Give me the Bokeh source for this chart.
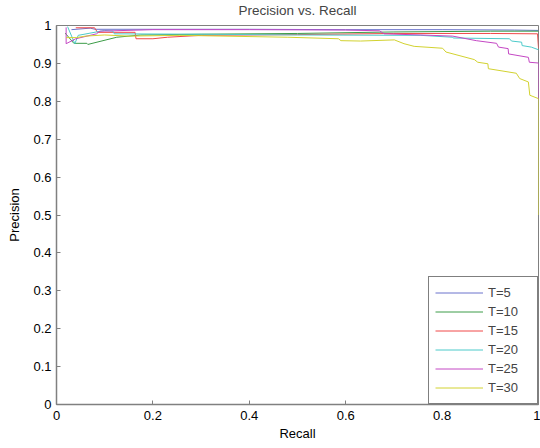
from bokeh.plotting import figure
from bokeh.models import Range1d, FixedTicker, Legend, LegendItem, Title
from bokeh.embed import file_html
from bokeh.resources import INLINE

# ---- data ----
series_names = ["T=5", "T=10", "T=15", "T=20", "T=25", "T=30"]
series_colors = ["#6a72cc", "#3c9c48", "#f04848", "#4ccaca", "#c448c4", "#d2d230"]

recall_t5 = [0.031, 0.07, 0.08, 0.2, 0.4, 0.6, 0.8, 0.95, 1.0]
precision_t5 = [0.989, 0.993, 0.990, 0.990, 0.990, 0.989, 0.989, 0.988, 0.987]

recall_t10 = [0.018, 0.036, 0.063, 0.065, 0.125, 0.175, 0.3, 0.5, 0.7, 0.9, 1.0]
precision_t10 = [0.980, 0.953, 0.953, 0.950, 0.969, 0.975, 0.977, 0.979, 0.983, 0.985, 0.985]

recall_t15 = [0.04, 0.079, 0.085, 0.163, 0.165, 0.2, 0.23, 0.3, 0.5, 0.7, 0.9, 0.998, 1.0]
precision_t15 = [0.994, 0.994, 0.982, 0.982, 0.965, 0.965, 0.969, 0.974, 0.976, 0.979, 0.979, 0.978, 0.940]

recall_t20 = [0.023, 0.038, 0.045, 0.1, 0.117, 0.12, 0.3, 0.5, 0.756, 0.822, 0.823,
              0.94, 0.944, 0.965, 0.966, 0.985, 1.0]
precision_t20 = [0.997, 0.952, 0.974, 0.987, 0.985, 0.978, 0.977, 0.975, 0.974, 0.969, 0.967,
                 0.965, 0.959, 0.956, 0.947, 0.943, 0.936]

recall_t25 = [0.02, 0.02, 0.04, 0.083, 0.09, 0.2, 0.4, 0.6, 0.67, 0.68, 0.756, 0.822, 0.871,
              0.913, 0.917, 0.937, 0.938, 0.979, 0.981, 1.0, 1.0]
precision_t25 = [0.995, 0.952, 0.965, 0.978, 0.985, 0.989, 0.989, 0.988, 0.986, 0.978, 0.975,
                 0.972, 0.960, 0.953, 0.943, 0.939, 0.925, 0.916, 0.903, 0.901, 0.805]

recall_t30 = [0.02, 0.041, 0.06, 0.1, 0.15, 0.256, 0.48, 0.585, 0.59, 0.631, 0.701, 0.721,
              0.742, 0.801, 0.808, 0.867, 0.874, 0.895, 0.896, 0.954, 0.961, 0.979, 0.982,
              1.0, 1.0]
precision_t30 = [0.968, 0.968, 0.972, 0.975, 0.972, 0.974, 0.969, 0.965, 0.960, 0.959, 0.962,
                 0.952, 0.945, 0.940, 0.930, 0.910, 0.903, 0.899, 0.886, 0.874, 0.860, 0.851,
                 0.816, 0.807, 0.500]

recalls = [recall_t5, recall_t10, recall_t15, recall_t20, recall_t25, recall_t30]
precisions = [precision_t5, precision_t10, precision_t15, precision_t20, precision_t25, precision_t30]

x_ticks = [0, 0.2, 0.4, 0.6, 0.8, 1]
x_tick_labels = ["0", "0.2", "0.4", "0.6", "0.8", "1"]
y_ticks = [0, 0.1, 0.2, 0.3, 0.4, 0.5, 0.6, 0.7, 0.8, 0.9, 1]
y_tick_labels = ["0", "0.1", "0.2", "0.3", "0.4", "0.5", "0.6", "0.7", "0.8", "0.9", "1"]

FONT = "Liberation Sans"

p = figure(width=540, height=446, output_backend="svg", toolbar_location=None,
           x_range=Range1d(0, 1), y_range=Range1d(0, 1),
           title="Precision vs. Recall",
           min_border_left=56, min_border_right=2, min_border_top=25, min_border_bottom=42)

p.title.align = "center"
p.title.text_font = FONT
p.title.text_font_size = "13.5px"
p.title.text_font_style = "normal"
p.title.standoff = 0
p.title.offset = 0

# small empty spacer between the title and the frame
p.above.insert(0, Title(text=" ", text_font_size="6px", standoff=0))

p.xgrid.visible = False
p.ygrid.visible = False
p.background_fill_color = "white"
p.border_fill_color = "white"
p.outline_line_color = "#808080"
p.outline_line_width = 1

for ax, ticks, labels, lab in [(p.xaxis[0], x_ticks, x_tick_labels, "Recall"),
                               (p.yaxis[0], y_ticks, y_tick_labels, "Precision")]:
    ax.ticker = FixedTicker(ticks=ticks)
    ax.major_label_overrides = {float(t): l for t, l in zip(ticks, labels)}
    ax.minor_tick_line_color = None
    ax.major_tick_in = 4
    ax.major_tick_out = 0
    ax.major_tick_line_color = "#808080"
    ax.axis_line_color = "#808080"
    ax.axis_line_width = 1.5
    ax.major_label_text_font = FONT
    ax.major_label_text_font_size = "13px"
    ax.major_label_text_color = "black"
    ax.axis_label = lab
    ax.axis_label_text_font = FONT
    ax.axis_label_text_font_size = "13px"
    ax.axis_label_text_font_style = "normal"
    ax.axis_label_text_color = "black"

p.xaxis[0].major_label_standoff = 6
p.xaxis[0].axis_label_standoff = 3
p.yaxis[0].major_label_standoff = 5
p.yaxis[0].axis_label_standoff = 8

items = []
for name, color, rx, py in zip(series_names, series_colors, recalls, precisions):
    r = p.line(rx, py, line_color=color, line_width=1)
    items.append(LegendItem(label=name, renderers=[r]))

legend = Legend(items=items, location="bottom_right", margin=0, padding=6, spacing=0,
                glyph_width=48, glyph_height=19, label_height=19, label_width=43,
                label_standoff=5, label_text_font=FONT, label_text_font_size="13px",
                border_line_color="black", border_line_width=1,
                background_fill_color="white", background_fill_alpha=1)
p.add_layout(legend, "center")

open("out.html", "w").write(file_html(p, INLINE))
